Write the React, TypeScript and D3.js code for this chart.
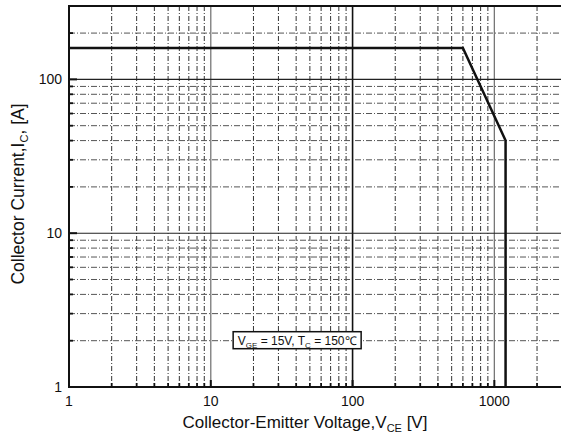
import React from "react";
import * as d3 from "d3";

// Reverse-bias safe operating area boundary (V_CE in V, I_C in A)
const rbsoaVce = [1, 600, 1200, 1200];
const rbsoaIc = [160, 160, 40, 1];

const xDomain = [1, 3000];
const yDomain = [1, 300];
const xMinorGrid = [2, 3, 4, 5, 6, 7, 8, 9, 20, 30, 40, 50, 60, 70, 80, 90, 200, 300, 400, 500, 600, 700, 800, 900, 2000];
const xDecades = [10, 100, 1000];
const xTickLabels = ["1", "10", "100", "1000"];
const yMinorGrid = [2, 3, 4, 5, 6, 7, 8, 9, 20, 30, 40, 50, 60, 70, 80, 90, 200];
const yDecades = [10, 100];
const yTickLabels = ["1", "10", "100"];

const noteAt = { vce: 40, ic: 2 };

const W = 561;
const H = 437;
const m = { left: 69, top: 6, right: 562, bottom: 387 };

export default function App() {
  const x = d3.scaleLog().domain(xDomain).range([m.left, m.right]);
  const y = d3.scaleLog().domain(yDomain).range([m.bottom, m.top]);
  const line = d3
    .line<number>()
    .x((_, i) => x(rbsoaVce[i]))
    .y((d) => y(d));
  const font = "'Liberation Sans', Arial, sans-serif";
  const nx = x(noteAt.vce);
  const ny = y(noteAt.ic);

  return (
    <svg width={W} height={H} style={{ position: "absolute", left: 0, top: 0, background: "#fff" }} fontFamily={font}>
      <defs>
        <clipPath id="plot">
          <rect x={m.left} y={m.top} width={m.right - m.left} height={m.bottom - m.top} />
        </clipPath>
      </defs>
      <g clipPath="url(#plot)">
        {xMinorGrid.map((v) => (
          <line key={"xg" + v} x1={x(v)} x2={x(v)} y1={m.top} y2={m.bottom} stroke="#333" strokeWidth={1} strokeDasharray="5,2,1,2" />
        ))}
        {yMinorGrid.map((v) => (
          <line key={"yg" + v} x1={m.left} x2={m.right} y1={y(v)} y2={y(v)} stroke="#555" strokeWidth={1} strokeDasharray="6,2,1,2" />
        ))}
        {xDecades.map((v) => (
          <line key={"xd" + v} x1={x(v)} x2={x(v)} y1={m.top} y2={m.bottom} stroke={v === 100 ? "#111" : "#777"} strokeWidth={v === 100 ? 1.6 : 1.3} />
        ))}
        {yDecades.map((v) => (
          <line key={"yd" + v} x1={m.left} x2={m.right} y1={y(v)} y2={y(v)} stroke="#222" strokeWidth={1.1} />
        ))}
        <path d={line(rbsoaIc) || ""} fill="none" stroke="#111" strokeWidth={2.5} strokeLinejoin="miter" />
      </g>

      {/* axis frame */}
      <line x1={m.left} x2={m.right} y1={m.top} y2={m.top} stroke="#111" strokeWidth={2} />
      <line x1={m.left} x2={m.left} y1={m.top - 1} y2={m.bottom + 1} stroke="#111" strokeWidth={2} />
      <line x1={m.left} x2={m.right} y1={m.bottom} y2={m.bottom} stroke="#111" strokeWidth={2} />

      {/* ticks */}
      {xMinorGrid.map((v) => (
        <line key={"xt" + v} x1={x(v)} x2={x(v)} y1={m.bottom} y2={m.bottom - 4} stroke="#111" strokeWidth={1.8} />
      ))}
      {xDecades.map((v) => (
        <line key={"xT" + v} x1={x(v)} x2={x(v)} y1={m.bottom} y2={m.bottom - 7} stroke="#111" strokeWidth={2} />
      ))}
      {yMinorGrid.map((v) => (
        <line key={"yt" + v} x1={m.left} x2={m.left + 4} y1={y(v)} y2={y(v)} stroke="#111" strokeWidth={1.8} />
      ))}
      {yDecades.map((v) => (
        <line key={"yT" + v} x1={m.left} x2={m.left + 8} y1={y(v)} y2={y(v)} stroke="#111" strokeWidth={2} />
      ))}

      {/* tick labels */}
      {xTickLabels.map((t) => (
        <text key={"xl" + t} x={x(+t)} y={m.bottom + 19} textAnchor="middle" fontSize={14} fill="#111">
          {t}
        </text>
      ))}
      {yTickLabels.map((t) => (
        <text key={"yl" + t} x={m.left - 7} y={y(+t) + 5} textAnchor="end" fontSize={14} fill="#111">
          {t}
        </text>
      ))}

      {/* axis titles */}
      <text x={305} y={428} textAnchor="middle" fontSize={17} fill="#111">
        Collector-Emitter Voltage,V
        <tspan fontSize={11} dy={4}>CE</tspan>
        <tspan dy={-4}> [V]</tspan>
      </text>
      <text transform="translate(24,194) rotate(-90)" textAnchor="middle" fontSize={17.5} fill="#111">
        Collector Current,I
        <tspan fontSize={11} dy={4}>C</tspan>
        <tspan dy={-4}>, [A]</tspan>
      </text>

      {/* test condition note */}
      <rect x={nx - 63} y={ny - 9} width={128} height={17} fill="#fff" stroke="#111" strokeWidth={1.5} />
      <text x={nx + 1} y={ny + 4} textAnchor="middle" fontSize={12} fill="#111">
        V<tspan fontSize={8} dy={3}>GE</tspan>
        <tspan dy={-3}> = 15V, T</tspan>
        <tspan fontSize={8} dy={3}>C</tspan>
        <tspan dy={-3}> = 150℃</tspan>
      </text>
    </svg>
  );
}
